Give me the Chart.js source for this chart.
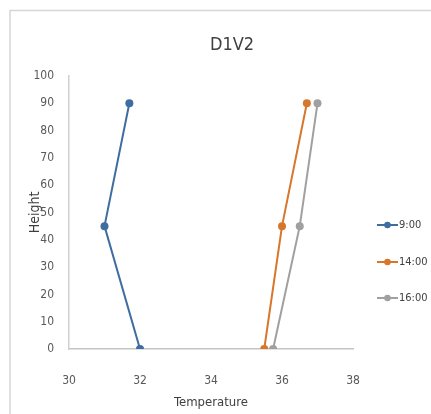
<!DOCTYPE html>
<html>
<head>
<meta charset="utf-8">
<script src="https://cdn.jsdelivr.net/npm/chart.js@4/dist/chart.umd.min.js"></script>
<style>
  html, body { margin: 0; padding: 0; background: #fff; }
  #wrap { position: relative; width: 431px; height: 414px; }
</style>
</head>
<body>
<div id="wrap"><canvas id="c" width="431" height="414"></canvas></div>
<script>
// Temperature profile at three heights for each reading time
const seriesNames = ['9:00', '14:00', '16:00'];
const heights = [90, 45, 0];
const temp0900 = [31.7, 31.0, 32.0];
const temp1400 = [36.7, 36.0, 35.5];
const temp1600 = [37.0, 36.5, 35.75];
const seriesColors = ['#3f6d9f', '#d7772c', '#a0a0a0'];

const xTicks = [30, 32, 34, 36, 38];
const yTicks = [0, 10, 20, 30, 40, 50, 60, 70, 80, 90, 100];

const FONT = "'Liberation Sans Narrow', 'DejaVu Sans Condensed', 'Arial Narrow', sans-serif";

function toPoints(temps) {
  return temps.map((t, i) => ({ x: t, y: heights[i] }));
}

const allTemps = [temp0900, temp1400, temp1600];
const datasets = allTemps.map((temps, i) => ({
  label: seriesNames[i],
  data: toPoints(temps),
  showLine: true,
  borderColor: seriesColors[i],
  backgroundColor: seriesColors[i],
  borderWidth: 2,
  pointRadius: 4,
  pointHoverRadius: 4,
  pointBorderWidth: 0,
  tension: 0
}));

// Outer frame, title and side legend
const decor = {
  id: 'decor',
  beforeDraw(chart) {
    const ctx = chart.ctx;
    ctx.save();
    ctx.fillStyle = '#ffffff';
    ctx.fillRect(0, 0, chart.width, chart.height);
    ctx.strokeStyle = '#d6d6d6';
    ctx.lineWidth = 1.5;
    ctx.beginPath();
    ctx.moveTo(10, chart.height);
    ctx.lineTo(10, 10.5);
    ctx.lineTo(chart.width, 10.5);
    ctx.stroke();
    ctx.restore();
  },
  afterDraw(chart) {
    const ctx = chart.ctx;
    const area = chart.chartArea;
    ctx.save();
    // title
    ctx.fillStyle = '#404040';
    ctx.font = "18px " + FONT;
    ctx.textAlign = 'center';
    ctx.textBaseline = 'middle';
    ctx.fillText('D1V2', (area.left + area.right) / 2 + 21, 45);
    // legend
    const ys = [225, 262, 298];
    ctx.font = "11px " + FONT;
    ctx.textAlign = 'left';
    chart.data.datasets.forEach((ds, i) => {
      const y = ys[i];
      ctx.strokeStyle = ds.borderColor;
      ctx.lineWidth = 2;
      ctx.beginPath();
      ctx.moveTo(377, y);
      ctx.lineTo(398, y);
      ctx.stroke();
      ctx.fillStyle = ds.borderColor;
      ctx.beginPath();
      ctx.arc(387.5, y, 3.3, 0, Math.PI * 2);
      ctx.fill();
      ctx.fillStyle = '#404040';
      ctx.fillText(ds.label, 399, y);
    });
    ctx.restore();
  }
};

new Chart(document.getElementById('c'), {
  type: 'scatter',
  data: { datasets },
  plugins: [decor],
  options: {
    responsive: false,
    animation: false,
    events: [],
    layout: { padding: { top: 76, left: 10, right: 78, bottom: 0 } },
    plugins: { legend: { display: false }, tooltip: { enabled: false }, title: { display: false } },
    scales: {
      x: {
        type: 'linear',
        min: 30, max: 38,
        afterBuildTicks(scale) { scale.ticks = xTicks.map(v => ({ value: v })); },
        afterFit(scale) { scale.height = 65; },
        grid: { display: false },
        border: { display: true, color: '#c4c4c4', width: 1.5 },
        ticks: { padding: 17, color: '#595959', font: { family: FONT, size: 12 } },
        title: { display: true, text: 'Temperature', color: '#404040', font: { family: FONT, size: 13 }, padding: { top: 0, bottom: 4 } }
      },
      y: {
        type: 'linear',
        min: 0, max: 100,
        afterBuildTicks(scale) { scale.ticks = yTicks.map(v => ({ value: v })); },
        afterFit(scale) { scale.width = 59; },
        grid: { display: false },
        border: { display: true, color: '#d0d0d0', width: 1.5 },
        ticks: { padding: 7, color: '#595959', font: { family: FONT, size: 12 } },
        title: { display: true, text: 'Height', color: '#404040', font: { family: FONT, size: 14 }, padding: { top: 17, bottom: 0 } }
      }
    }
  }
});
</script>
</body>
</html>
